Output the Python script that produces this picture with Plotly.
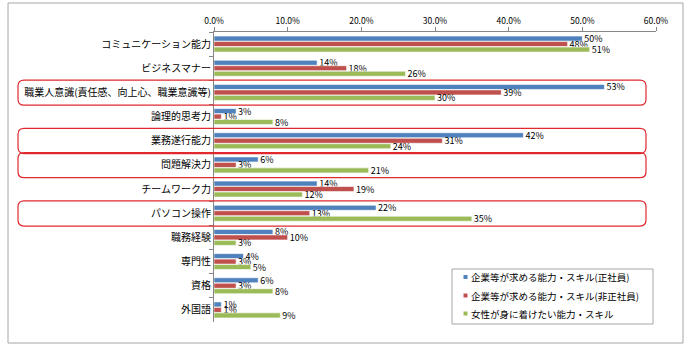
import plotly.graph_objects as go

categories = ["コミュニケーション能力", "ビジネスマナー", "職業人意識(責任感、向上心、職業意識等)",
              "論理的思考力", "業務遂行能力", "問題解決力", "チームワーク力", "パソコン操作",
              "職務経験", "専門性", "資格", "外国語"]
series_names = ["企業等が求める能力・スキル(正社員)", "企業等が求める能力・スキル(非正社員)", "女性が身に着けたい能力・スキル"]
regular = [50, 14, 53, 3, 42, 6, 14, 22, 8, 4, 6, 1]
nonregular = [48, 18, 39, 1, 31, 3, 19, 13, 10, 3, 3, 1]
women = [51, 26, 30, 8, 24, 21, 12, 35, 3, 5, 8, 9]
highlighted = ["職業人意識(責任感、向上心、職業意識等)", "業務遂行能力", "問題解決力", "パソコン操作"]
x_ticks = [0, 10, 20, 30, 40, 50, 60]

colors = ["#4F81BD", "#C0504D", "#9BBB59"]
FONT = "Noto Sans CJK JP"
W, H = 695, 348
PL, PR, PT, PB = 214, 656, 32, 322


def px_x(x):
    return (x - PL) / (PR - PL)


def px_y(y):
    return (PB - y) / (PB - PT)


fig = go.Figure()
for name, vals, c in zip(series_names, [regular, nonregular, women], colors):
    fig.add_trace(go.Bar(
        y=categories, x=vals, orientation="h", name=name,
        marker=dict(color=c, line=dict(color="white", width=0.6)),
        text=[f" {v}%" for v in vals], textposition="outside",
        constraintext="none", cliponaxis=False,
        textfont=dict(family=FONT, size=9, color="#000000"),
        showlegend=False,
    ))

shapes = []
annotations = []
# outer border
shapes.append(dict(type="rect", xref="paper", yref="paper",
                   x0=px_x(8), x1=px_x(683), y0=px_y(343), y1=px_y(3),
                   line=dict(color="#A6A6A6", width=1), layer="below"))

# rounded red rectangles
band = (PB - PT) / len(categories)
r = 6
for cat in highlighted:
    i = categories.index(cat)
    cy = PT + (i + 0.5) * band
    top, bot = cy - 12.3, cy + 12.8
    left, right = 18, 646
    pts = [
        ("M", left + r, top), ("L", right - r, top), ("Q", right, top, right, top + r),
        ("L", right, bot - r), ("Q", right, bot, right - r, bot),
        ("L", left + r, bot), ("Q", left, bot, left, bot - r),
        ("L", left, top + r), ("Q", left, top, left + r, top),
    ]
    path = ""
    for p in pts:
        if p[0] == "Q":
            path += f"Q{px_x(p[1]):.5f},{px_y(p[2]):.5f} {px_x(p[3]):.5f},{px_y(p[4]):.5f} "
        else:
            path += f"{p[0]}{px_x(p[1]):.5f},{px_y(p[2]):.5f} "
    path += "Z"
    shapes.append(dict(type="path", xref="paper", yref="paper", path=path,
                       line=dict(color="#E0282E", width=1.2), layer="above"))

# legend box (drawn manually)
shapes.append(dict(type="rect", xref="paper", yref="paper",
                   x0=px_x(452), x1=px_x(653), y0=px_y(324), y1=px_y(269),
                   line=dict(color="#A6A6A6", width=1), fillcolor="white", layer="above"))
row_y = [277, 295.5, 313.5]
for name, c, ry in zip(series_names, colors, row_y):
    shapes.append(dict(type="rect", xref="paper", yref="paper",
                       x0=px_x(463.5), x1=px_x(467.5), y0=px_y(ry + 2), y1=px_y(ry - 2),
                       line=dict(width=0), fillcolor=c, layer="above"))
    annotations.append(dict(xref="paper", yref="paper", x=px_x(469), y=px_y(ry),
                            xanchor="left", yanchor="middle", showarrow=False,
                            text=name, font=dict(family=FONT, size=9.5, color="#000000")))

fig.update_layout(
    width=W, height=H,
    margin=dict(l=PL, r=W - PR, t=PT, b=H - PB, pad=0),
    paper_bgcolor="white", plot_bgcolor="white",
    barmode="group", bargap=0.32, bargroupgap=0.08,
    font=dict(family=FONT, size=10, color="#000000"),
    showlegend=False,
    xaxis=dict(side="top", range=[0, 60], tickvals=x_ticks,
               ticktext=[f"{v:.1f}%" for v in x_ticks],
               showgrid=False, zeroline=False, showline=True, linecolor="#868686",
               ticks="outside", ticklen=4, tickcolor="#868686",
               tickfont=dict(family=FONT, size=8.5, color="#000000")),
    yaxis=dict(autorange="reversed", showgrid=False, zeroline=False,
               showline=True, linecolor="#868686", ticks="outside", ticklen=4,
               tickcolor="#868686", tickson="boundaries",
               tickfont=dict(family=FONT, size=10, color="#000000")),
    shapes=shapes,
    annotations=annotations,
)

fig.write_html("out.html")
